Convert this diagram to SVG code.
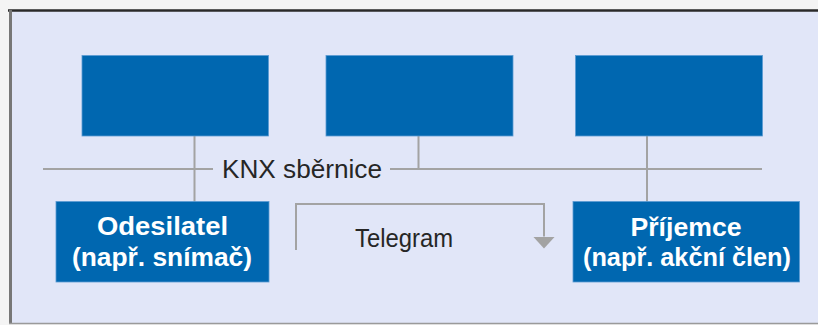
<svg xmlns="http://www.w3.org/2000/svg" width="818" height="325" viewBox="0 0 818 325">
<style>
.box{fill:#0067B0;stroke:#5B9BD3;stroke-width:0.8}
.ln{stroke:#A3A3A3;stroke-width:2;fill:none}
.lbl{font-family:"Liberation Sans",Arial,sans-serif;font-weight:bold;font-size:25px;fill:#FFFFFF;text-anchor:middle}
.txt{font-family:"Liberation Sans",Arial,sans-serif;font-size:25px;fill:#262626;text-anchor:middle}
</style>
<defs>
<marker id="ah" markerWidth="12" markerHeight="22" refX="0" refY="11" orient="auto" markerUnits="userSpaceOnUse" viewBox="0 0 12 22">
<path d="M0,0 L12,11 L0,22 Z" fill="#A3A3A3"/>
</marker>
</defs>
<rect x="0" y="0" width="818" height="325" fill="#F4F4F4"/>
<rect x="9" y="10" width="809" height="313" fill="#E1E6F8"/>
<line x1="8" y1="10.5" x2="818" y2="10.5" stroke="#2A2A2A" stroke-width="2.5"/>
<line x1="10.5" y1="10" x2="10.5" y2="324" stroke="#777777" stroke-width="3"/>
<line x1="9" y1="323.5" x2="818" y2="323.5" stroke="#9A9A9A" stroke-width="1.5"/>
<g id="connectors">
<line class="ln" x1="43" y1="169" x2="213" y2="169"/>
<line class="ln" x1="390" y1="169" x2="762" y2="169"/>
<line class="ln" x1="194.5" y1="136" x2="194.5" y2="202"/>
<line class="ln" x1="418.5" y1="136" x2="418.5" y2="169"/>
<line class="ln" x1="647" y1="136" x2="647" y2="202"/>
<path class="ln" d="M296,250 L296,204 L544,204 L544,236.5" marker-end="url(#ah)"/>
</g>
<g id="bus-label"><text class="txt" x="302" y="178" textLength="160" lengthAdjust="spacingAndGlyphs">KNX sběrnice</text></g>
<g id="telegram-label"><text class="txt" x="404" y="247" font-size="24" textLength="98" lengthAdjust="spacingAndGlyphs">Telegram</text></g>
<g id="top1"><rect class="box" x="82" y="55.5" width="186.5" height="80.5"/></g>
<g id="top2"><rect class="box" x="326" y="55.5" width="187" height="80.5"/></g>
<g id="top3"><rect class="box" x="575.5" y="55.5" width="187" height="80.5"/></g>
<g id="sender">
<rect class="box" x="56" y="201.5" width="213" height="80.5"/>
<text class="lbl" x="162.5" y="235" textLength="131" lengthAdjust="spacingAndGlyphs">Odesilatel</text>
<text class="lbl" x="162" y="266" textLength="180" lengthAdjust="spacingAndGlyphs">(např. snímač)</text>
</g>
<g id="receiver">
<rect class="box" x="573" y="201.5" width="226.5" height="80.5"/>
<text class="lbl" x="686" y="236" textLength="111" lengthAdjust="spacingAndGlyphs">Příjemce</text>
<text class="lbl" x="687" y="266" textLength="208" lengthAdjust="spacingAndGlyphs">(např. akční člen)</text>
</g>
</svg>
